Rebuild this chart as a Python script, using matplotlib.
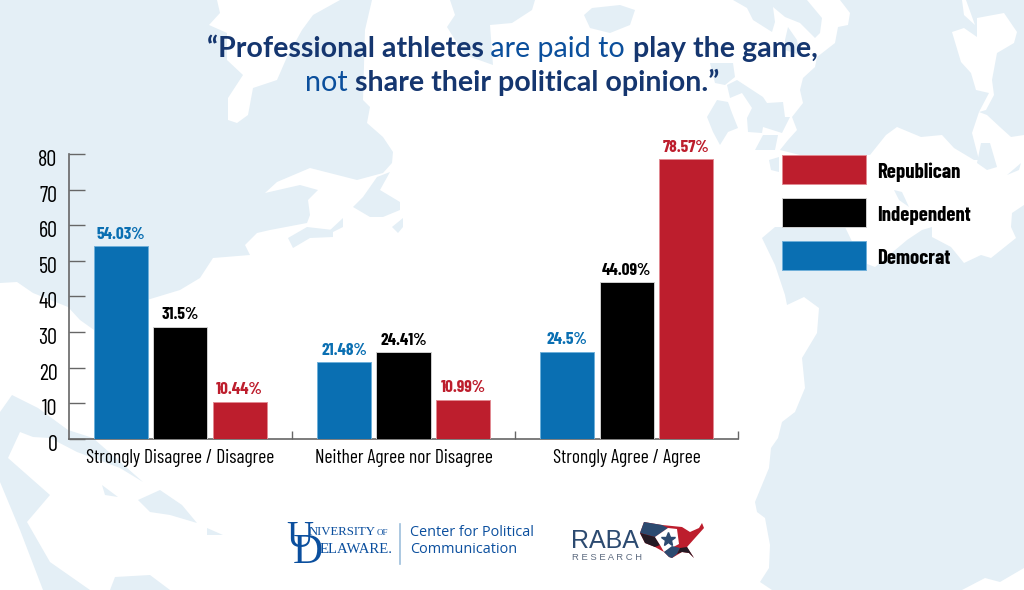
import numpy as np
import matplotlib
matplotlib.use("Agg")
import matplotlib.pyplot as plt
from matplotlib.patches import Polygon
from matplotlib.transforms import ScaledTranslation
import logging

logging.getLogger("matplotlib.font_manager").setLevel(logging.ERROR)

NARROW = ["Barlow Condensed", "Asap Condensed", "Liberation Sans", "DejaVu Sans"]
BLUE = "#0a6fb2"
RED = "#bd1e2d"
BLACK = "#000000"
MAP_BLUE = "#e4eff6"
DARK_TITLE = "#15366f"
LIGHT_TITLE = "#0b4f9c"
UD_BLUE = "#0b4f9e"
RABA_NAVY = "#2c4a70"
RABA_DARK = "#241a24"

categories = ["Strongly Disagree / Disagree", "Neither Agree nor Disagree", "Strongly Agree / Agree"]
democrat = [54.03, 21.48, 24.5]
independent = [31.5, 24.41, 44.09]
republican = [10.44, 10.99, 78.57]
yticks = [0, 10, 20, 30, 40, 50, 60, 70, 80]

title_lines = [
    [("\u201cProfessional athletes", True), (" are paid to ", False), ("play the game,", True)],
    [("not ", False), ("share their political opinion.\u201d", True)],
]

# background map, picture pixels, roughly traced
MAP_SEA = [
    # north west
    [(0, 0), (372, 0), (365, 30), (363, 100), (370, 107), (367, 123), (383, 137), (393, 152), (392, 163),
     (383, 173), (357, 180), (310, 168), (277, 182), (265, 193), (300, 185), (318, 190), (308, 200), (310, 215),
     (307, 223), (270, 230), (257, 233), (245, 245), (250, 255), (213, 258), (200, 278), (180, 290), (147, 300),
     (94, 330), (80, 320), (68, 307), (33, 293), (17, 282), (0, 283)],
    # north east
    [(840, 0), (1024, 0), (1024, 135), (1011, 137), (1001, 128), (987, 115), (979, 112), (972, 133), (979, 160),
     (974, 160), (954, 148), (942, 135), (921, 137), (897, 127), (886, 135), (870, 155), (800, 155), (780, 150),
     (788, 140), (797, 130), (792, 117), (803, 103), (800, 90), (803, 78), (815, 67), (817, 57), (835, 43),
     (838, 27), (848, 25), (850, 13)],
    # south east
    [(762, 238), (775, 227), (845, 227), (862, 262), (875, 267), (907, 240), (922, 230), (932, 227), (932, 237),
     (951, 247), (964, 263), (981, 255), (991, 258), (1016, 238), (1011, 227), (1012, 213), (1024, 205),
     (1024, 568), (1000, 582), (985, 578), (962, 590), (772, 590), (760, 582), (769, 568), (770, 545), (765, 518),
     (757, 512), (755, 502), (769, 468), (771, 448), (778, 438), (782, 422), (795, 412), (805, 388), (802, 358),
     (817, 333), (819, 308), (804, 297), (787, 305), (785, 295), (775, 265)],
    # south west
    [(0, 412), (12, 395), (38, 408), (68, 430), (93, 438), (143, 482), (120, 468), (77, 452), (50, 438), (33, 437),
     (20, 432), (8, 458), (50, 495), (27, 522), (50, 562), (90, 590), (43, 590), (20, 530), (0, 482)],
    # smaller waters
    [(102, 485), (118, 497), (105, 495)],
    [(138, 500), (160, 490), (182, 505), (197, 523), (170, 515), (150, 512)],
    [(207, 528), (223, 535), (207, 535)],
    [(110, 590), (115, 577), (150, 575), (170, 590)],
    [(353, 207), (363, 197), (377, 177), (390, 172), (380, 190), (400, 202), (400, 210), (383, 217), (370, 217)],
    [(392, 227), (403, 218), (403, 227), (398, 233)],
    [(288, 238), (307, 227), (333, 230), (333, 237), (310, 238), (293, 248)],
    [(328, 232), (343, 218), (343, 227), (333, 232)],
    [(450, 0), (535, 0), (532, 10), (512, 23), (490, 25), (493, 65), (465, 55), (452, 35), (447, 27), (455, 15)],
    [(584, 15), (592, 8), (620, 5), (635, 10), (630, 25), (610, 33), (590, 28)],
    [(733, 0), (747, 8), (753, 20), (772, 32), (775, 22), (773, 7), (785, 17), (800, 23), (815, 38), (820, 33),
     (822, 18), (807, 0)],
    [(785, 40), (788, 27), (797, 40), (800, 55), (785, 50)],
    [(710, 63), (733, 63), (735, 77), (725, 85), (715, 83)],
    [(727, 85), (737, 80), (763, 97), (767, 103), (783, 102), (785, 117), (790, 117), (782, 133), (763, 127),
     (762, 133), (748, 132), (747, 118), (752, 108), (742, 93), (730, 98)],
    [(707, 117), (717, 100), (728, 102), (732, 113), (738, 128), (728, 132), (720, 145), (713, 132)],
    [(755, 150), (763, 135), (778, 135), (775, 150)],
    [(769, 160), (779, 157), (779, 172), (771, 170)],
    [(894, 190), (902, 192), (909, 207), (899, 200)],
    [(1007, 175), (1021, 163), (1019, 170)],
]
MAP_LAND = [
    [(217, 0), (220, 13), (209, 25), (227, 33), (227, 60), (243, 75), (228, 98), (228, 120), (237, 123), (248, 115),
     (253, 88), (277, 80), (287, 57), (302, 30), (313, 15), (340, 0)],
    [(952, 32), (964, 28), (977, 37), (977, 18), (1004, 13), (1017, 32), (1014, 43), (997, 53), (992, 80), (994, 95),
     (986, 110), (979, 112), (989, 93), (976, 90), (971, 73), (961, 62)],
    [(962, 0), (966, 0), (975, 25), (964, 15)],
]
MAP_INNER_SEA = [
    [(981, 143), (990, 143), (997, 167), (987, 170), (977, 163)],
]
US_SHAPE = [(644, 522), (662, 525), (682, 527), (690, 532), (699, 528), (702, 523), (704, 528), (695, 538), (687, 547),
            (694, 558), (689, 553), (682, 552), (672, 558), (669, 557), (664, 552), (655, 547), (645, 543), (640, 533)]
US_NAVY = [(644, 522), (662, 525), (668, 528), (655, 537), (640, 533)]
US_DARK = [(640, 533), (655, 537), (660, 545), (655, 547), (645, 543)]
US_WHITE = [(668, 528), (677, 529), (679, 544), (664, 552), (660, 545), (655, 537)]
US_SOUTH = [(664, 552), (672, 546), (680, 548), (677, 554), (672, 558), (669, 557)]
US_SE = [(680, 548), (687, 547), (694, 558), (689, 553), (682, 552), (677, 554)]

fig = plt.figure(figsize=(10.24, 5.9), dpi=100, facecolor="white")

bg = fig.add_axes([0, 0, 1, 1], zorder=0)
bg.set_xlim(0, 1024)
bg.set_ylim(590, 0)
bg.axis("off")
for pts in MAP_SEA:
    bg.add_patch(Polygon(pts, closed=True, fc=MAP_BLUE, ec="none"))
for pts in MAP_LAND:
    bg.add_patch(Polygon(pts, closed=True, fc="white", ec="none"))
for pts in MAP_INNER_SEA:
    bg.add_patch(Polygon(pts, closed=True, fc=MAP_BLUE, ec="none"))

ax = fig.add_axes([68.5 / 1024, (590 - 438.7) / 590, (738.5 - 68.5) / 1024, (438.7 - 154) / 590], zorder=1)
ax.patch.set_alpha(0)

x = np.arange(len(categories))
width = 0.242
step = 0.2665
series = [
    ("Democrat", democrat, BLUE, "#6fb0da", -step),
    ("Independent", independent, BLACK, "#cfcfcf", 0),
    ("Republican", republican, RED, "#e28a92", step),
]
bars = {}
for name, vals, col, edge, off in series:
    b = ax.bar(x + off, vals, width, color=col, edgecolor=edge, linewidth=0.7, label=name, zorder=3)
    ax.bar_label(b, labels=["{:g}%".format(v) for v in vals], padding=3, color=col,
                 fontsize=12.5, fontweight="bold", family=NARROW)
    bars[name] = b

ax.set_xlim(-0.5, 2.5)
ax.set_ylim(0, 80)
ax.set_yticks(yticks)
ax.set_xticks(x)
ax.set_xticklabels(categories)
ax.set_xticks([0.5, 1.5, 2.5], minor=True)
ax.tick_params(axis="y", direction="in", length=11.5, width=1, color="#666666", pad=8, labelsize=16)
ax.tick_params(axis="x", which="major", length=0, pad=7.5, labelsize=14)
ax.tick_params(axis="x", which="minor", direction="in", length=6, width=1, color="#666666")
down = ScaledTranslation(0, -4 / 100, fig.dpi_scale_trans)
for lab in ax.get_yticklabels():
    lab.set_family(NARROW)
    lab.set_transform(lab.get_transform() + down)
for lab in ax.get_xticklabels():
    lab.set_family(NARROW)
for s in ["top", "right"]:
    ax.spines[s].set_visible(False)
for s in ["left", "bottom"]:
    ax.spines[s].set_color("#666666")
    ax.spines[s].set_linewidth(1.2)

handles = [bars["Republican"], bars["Independent"], bars["Democrat"]]
leg = fig.legend(handles, ["Republican", "Independent", "Democrat"], loc="upper left",
                 bbox_to_anchor=(782 / 1024, 1 - 155 / 590), frameon=False, borderpad=0, borderaxespad=0,
                 handlelength=4.04, handleheight=1.73, labelspacing=0.7, handletextpad=0.53,
                 prop={"family": NARROW, "weight": "bold", "size": 15})
for t in leg.get_texts():
    t.set_position((0, -2))

# title runs are placed one after the other, centred per line
renderer = fig.canvas.get_renderer()
for line, ypix in zip(title_lines, [57, 91]):
    parts = []
    for txt, heavy in line:
        t = bg.text(0, ypix, txt.replace(" ", "\u00a0"), family="Lato", fontsize=20.6, va="baseline", ha="left",
                    fontweight="bold" if heavy else "normal", color=DARK_TITLE if heavy else LIGHT_TITLE, zorder=5)
        parts.append(t)
    widths = [t.get_window_extent(renderer).width for t in parts]
    xpos = 512 - sum(widths) / 2
    for t, w in zip(parts, widths):
        t.set_x(xpos)
        xpos += w

# University of Delaware logo
bg.text(286, 547, "U", family="Liberation Serif", fontsize=27, color=UD_BLUE, va="baseline")
bg.text(293, 563, "D", family="Liberation Serif", fontsize=30, color=UD_BLUE, va="baseline")
bg.text(309, 535, "NIVERSITY", family="Liberation Serif", fontsize=9.2, color=UD_BLUE, va="baseline")
bg.text(377, 535, "OF", family="Liberation Serif", fontsize=6.5, color=UD_BLUE, va="baseline")
bg.text(320, 553, "ELAWARE.", family="Liberation Serif", fontsize=10.6, color=UD_BLUE, va="baseline")
bg.plot([400, 400], [524, 564], color="#9dbfdc", lw=1.2)
bg.text(410, 536, "Center for Political", family="Open Sans", fontsize=10.4, color=UD_BLUE, va="baseline")
bg.text(410, 553, "Communication", family="Open Sans", fontsize=10.4, color=UD_BLUE, va="baseline")

# Raba logo
bg.text(571, 548, "RABA", family="Liberation Sans", fontsize=18, color=RABA_NAVY, va="baseline")
bg.text(572, 560, "R E S E A R C H", family="Liberation Sans", fontsize=6.8, color="#5d6b80", va="baseline")
bg.add_patch(Polygon(US_SHAPE, closed=True, fc=RED, ec="none"))
bg.add_patch(Polygon(US_NAVY, closed=True, fc=RABA_NAVY, ec="none"))
bg.add_patch(Polygon(US_DARK, closed=True, fc=RABA_DARK, ec="none"))
bg.add_patch(Polygon(US_WHITE, closed=True, fc="white", ec="none"))
bg.add_patch(Polygon(US_SOUTH, closed=True, fc=RABA_NAVY, ec="none"))
bg.add_patch(Polygon(US_SE, closed=True, fc=RABA_DARK, ec="none"))
bg.plot([668], [539], marker="*", ms=10, color=RABA_NAVY, ls="none")

fig.savefig("out.png", dpi=100)
